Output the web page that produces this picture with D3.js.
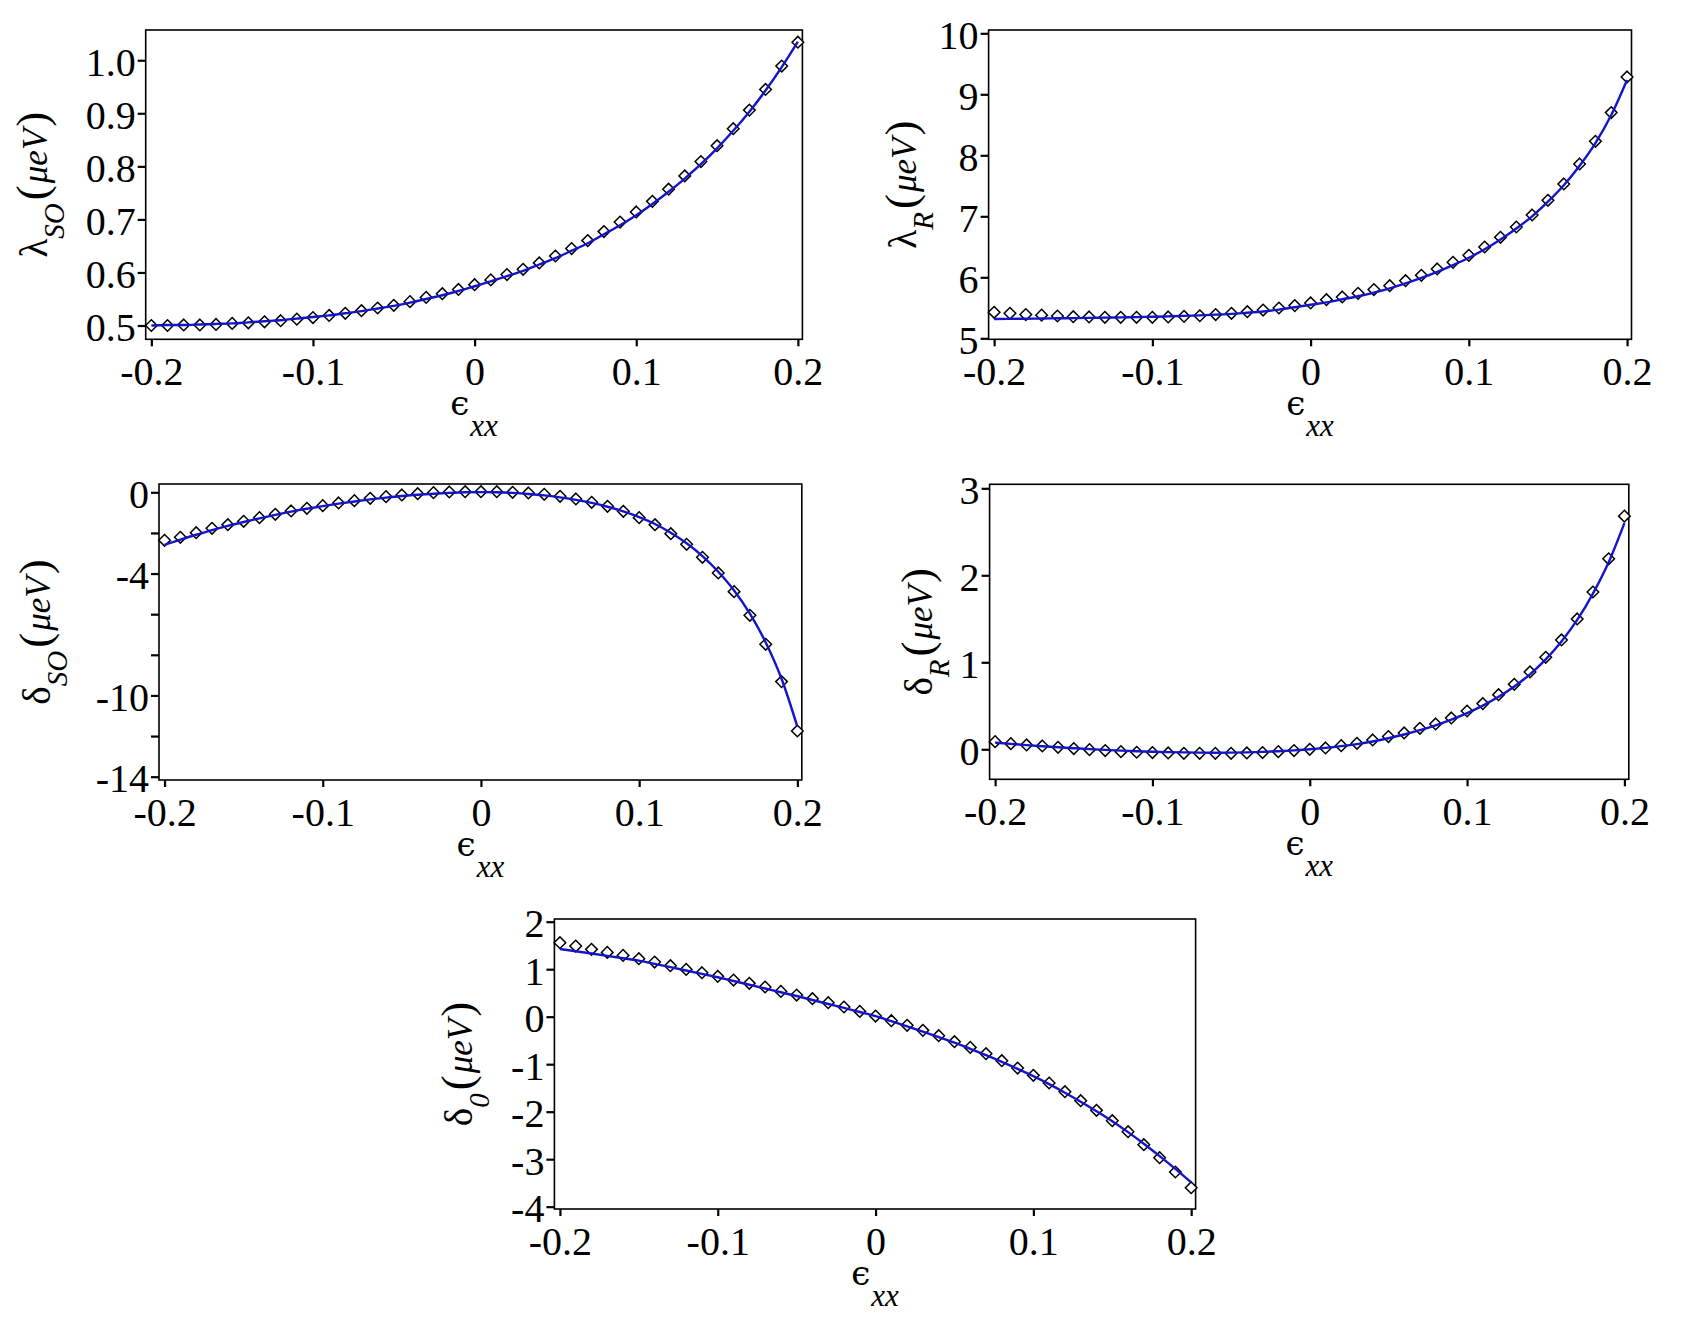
<!DOCTYPE html>
<html>
<head>
<meta charset="utf-8">
<script src="https://cdn.jsdelivr.net/npm/d3@7"></script>
<style>
  body { margin: 0; background: #fff; }
  svg { display: block; }
</style>
</head>
<body>
<svg id="fig" width="1687" height="1324"></svg>
<script>
// strain values (x axis, shared by all panels)
var strain = [-0.2,-0.19,-0.18,-0.17,-0.16,-0.15,-0.14,-0.13,-0.12,-0.11,-0.1,-0.09,-0.08,-0.07,-0.06,-0.05,-0.04,-0.03,-0.02,-0.01,
  0,0.01,0.02,0.03,0.04,0.05,0.06,0.07,0.08,0.09,0.1,0.11,0.12,0.13,0.14,0.15,0.16,0.17,0.18,0.19,0.2];
var xTicks = [-0.2,-0.1,0,0.1,0.2];
var xTickLabels = ["-0.2","-0.1","0","0.1","0.2"];

// lambda_SO
var lambdaSOPts = [0.500,0.500,0.501,0.501,0.502,0.504,0.505,0.507,0.509,0.512,0.515,0.519,0.523,0.528,0.533,0.538,0.545,0.553,0.560,0.568,
  0.577,0.586,0.596,0.606,0.618,0.631,0.645,0.660,0.677,0.695,0.714,0.734,0.757,0.782,0.809,0.839,0.871,0.906,0.945,0.989,1.034];
var lambdaSOFit = [0.500,0.501,0.501,0.502,0.503,0.504,0.506,0.508,0.510,0.513,0.516,0.519,0.523,0.527,0.532,0.537,0.543,0.550,0.557,0.565,
  0.574,0.583,0.593,0.603,0.615,0.627,0.641,0.655,0.672,0.689,0.708,0.729,0.752,0.777,0.804,0.834,0.867,0.903,0.943,0.987,1.035];
var lambdaSOTicks = [0.5,0.6,0.7,0.8,0.9,1.0];
var lambdaSOTickLabels = ["0.5","0.6","0.7","0.8","0.9","1.0"];

// lambda_R
var lambdaRPts = [5.426,5.41,5.39,5.38,5.366,5.355,5.35,5.344,5.344,5.344,5.344,5.35,5.36,5.37,5.39,5.41,5.437,5.464,5.497,5.536,
  5.58,5.634,5.678,5.738,5.80,5.863,5.945,6.033,6.137,6.246,6.361,6.497,6.656,6.825,7.022,7.262,7.53,7.858,8.23,8.70,9.284];
var lambdaRFit = [5.317,5.319,5.322,5.325,5.328,5.331,5.335,5.339,5.343,5.348,5.354,5.36,5.368,5.377,5.388,5.40,5.42,5.44,5.47,5.51,
  5.55,5.59,5.64,5.69,5.75,5.82,5.90,5.99,6.09,6.20,6.32,6.46,6.62,6.80,7.00,7.24,7.51,7.83,8.20,8.66,9.235];
var lambdaRTicks = [5,6,7,8,9,10];
var lambdaRTickLabels = ["5","6","7","8","9","10"];

// delta_SO
var deltaSOPts = [-2.363,-2.216,-1.986,-1.773,-1.592,-1.428,-1.247,-1.083,-0.919,-0.788,-0.656,-0.525,-0.41,-0.295,-0.213,-0.131,-0.066,-0.016,0.016,0.03,
  0.03,0.03,0,-0.033,-0.098,-0.197,-0.328,-0.492,-0.689,-0.936,-1.247,-1.592,-2.035,-2.56,-3.2,-3.97,-4.89,-6.056,-7.484,-9.32,-11.75];
var deltaSOFit = [-2.59,-2.33,-2.09,-1.86,-1.65,-1.46,-1.28,-1.11,-0.95,-0.81,-0.68,-0.56,-0.45,-0.35,-0.26,-0.18,-0.12,-0.07,-0.03,0.0,
  0.01,0.0,-0.03,-0.08,-0.15,-0.25,-0.37,-0.52,-0.71,-0.94,-1.22,-1.56,-1.99,-2.51,-3.14,-3.91,-4.83,-5.97,-7.39,-9.18,-11.54];
var deltaSOTicks = [0,-2,-4,-6,-8,-10,-12,-14];
var deltaSOTickLabels = ["0","","-4","","","-10","","-14"];

// delta_R
var deltaRPts = [0.088,0.065,0.05,0.038,0.023,0.008,-0.004,-0.015,-0.027,-0.034,-0.038,-0.042,-0.046,-0.046,-0.046,-0.046,-0.042,-0.038,-0.027,-0.015,
  0,0.015,0.042,0.069,0.107,0.146,0.188,0.241,0.291,0.36,0.44,0.525,0.628,0.747,0.889,1.057,1.257,1.498,1.808,2.19,2.68];
var deltaRFit = [0.077,0.062,0.048,0.035,0.023,0.012,0.002,-0.007,-0.015,-0.022,-0.028,-0.033,-0.036,-0.038,-0.039,-0.038,-0.035,-0.030,-0.022,-0.012,
  0.0,0.016,0.036,0.060,0.090,0.127,0.170,0.220,0.276,0.341,0.416,0.502,0.603,0.722,0.862,1.034,1.240,1.487,1.790,2.150,2.600];
var deltaRTicks = [0,1,2,3];
var deltaRTickLabels = ["0","1","2","3"];

// delta_0
var delta0Pts = [1.558,1.488,1.418,1.354,1.291,1.221,1.151,1.074,0.996,0.926,0.849,0.772,0.702,0.625,0.533,0.456,0.379,0.295,0.204,0.112,
  0.014,-0.084,-0.182,-0.288,-0.4,-0.526,-0.646,-0.779,-0.926,-1.081,-1.235,-1.396,-1.579,-1.768,-1.972,-2.189,-2.421,-2.695,-2.968,-3.27,-3.6];
var delta0Fit = [1.425,1.378,1.330,1.281,1.231,1.180,1.112,1.043,0.973,0.902,0.830,0.752,0.673,0.594,0.514,0.435,0.352,0.268,0.184,0.099,
  0.014,-0.095,-0.205,-0.316,-0.430,-0.547,-0.676,-0.810,-0.950,-1.097,-1.252,-1.420,-1.600,-1.790,-1.990,-2.200,-2.430,-2.675,-2.935,-3.205,-3.490];
var delta0Ticks = [-4,-3,-2,-1,0,1,2];
var delta0TickLabels = ["-4","-3","-2","-1","0","1","2"];

// panel layout (frame in px, y range at frame bottom/top)
var panels = [
  {sym:"λ", sub:"SO", pts:lambdaSOPts, fit:lambdaSOFit, ticks:lambdaSOTicks, labels:lambdaSOTickLabels,
   l:145.7, r:802.4, t:30, b:339.3, yMin:0.474, yMax:1.057, labX:47},
  {sym:"λ", sub:"R", pts:lambdaRPts, fit:lambdaRFit, ticks:lambdaRTicks, labels:lambdaRTickLabels,
   l:988.6, r:1631.5, t:30, b:339.3, yMin:4.984, yMax:10.054, labX:916},
  {sym:"δ", sub:"SO", pts:deltaSOPts, fit:deltaSOFit, ticks:deltaSOTicks, labels:deltaSOTickLabels,
   l:159, r:801.8, t:484, b:780, yMin:-14.163, yMax:0.409, labX:50},
  {sym:"δ", sub:"R", pts:deltaRPts, fit:deltaRFit, ticks:deltaRTicks, labels:deltaRTickLabels,
   l:989.6, r:1628.8, t:484.3, b:779.3, yMin:-0.345, yMax:3.046, labX:932},
  {sym:"δ", sub:"0", pts:delta0Pts, fit:delta0Fit, ticks:delta0Ticks, labels:delta0TickLabels,
   l:554.4, r:1195.6, t:919, b:1209, yMin:-4.049, yMax:2.057, labX:472}
];

var FONT = "'Liberation Serif', 'DejaVu Serif', serif";
var svg = d3.select("#fig");
svg.append("rect").attr("width",1687).attr("height",1324).attr("fill","#fff");

panels.forEach(function(p){
  var x = d3.scaleLinear().domain([-0.2035,0.2028]).range([p.l,p.r]);
  var y = d3.scaleLinear().domain([p.yMin,p.yMax]).range([p.b,p.t]);
  var g = svg.append("g").attr("class","panel");

  // axes
  var ax = g.append("g").attr("transform","translate(0,"+p.b+")")
    .call(d3.axisBottom(x).tickValues(xTicks).tickSize(7).tickFormat(function(d,i){return xTickLabels[i];}));
  var ay = g.append("g").attr("transform","translate("+p.l+",0)")
    .call(d3.axisLeft(y).tickValues(p.ticks).tickSize(8).tickFormat(function(d,i){return p.labels[i];}));
  [ax,ay].forEach(function(a){
    a.attr("font-family",FONT).attr("font-size",40);
    a.select(".domain").remove();
    a.selectAll(".tick line").attr("stroke","#000").attr("stroke-width",2.2);
    a.selectAll(".tick text").attr("fill","#000");
  });
  ax.selectAll(".tick text").attr("y",46).attr("dy",null);
  ay.selectAll(".tick text").attr("x",-10).attr("y",15).attr("dy",null);

  // frame
  g.append("rect").attr("x",p.l).attr("y",p.t).attr("width",p.r-p.l).attr("height",p.b-p.t)
    .attr("fill","none").attr("stroke","#000").attr("stroke-width",1.6);

  // data points (diamonds)
  var s = 5.8;
  g.append("g").selectAll("path")
    .data(strain)
    .enter()
    .append("path")
    .attr("d",function(d,i){
      var cx = x(d), cy = y(p.pts[i]);
      return "M"+cx+","+(cy-s)+"L"+(cx+s)+","+cy+"L"+cx+","+(cy+s)+"L"+(cx-s)+","+cy+"Z";
    })
    .attr("fill","#fff").attr("stroke","#000").attr("stroke-width",1.5);

  // fitted curve
  var line = d3.line()
    .x(function(d){return x(d);})
    .y(function(d,i){return y(p.fit[i]);})
    .curve(d3.curveMonotoneX);
  g.append("path").datum(strain).attr("d",line)
    .attr("fill","none").attr("stroke","#1414c8").attr("stroke-width",2.4);

  // x label
  var cx = (p.l+p.r)/2;
  var xl = g.append("text").attr("x",cx).attr("y",p.b+76).attr("text-anchor","middle").attr("font-family",FONT);
  xl.append("tspan").attr("font-family","'DejaVu Serif', serif").attr("font-size",34).text("ϵ");
  xl.append("tspan").attr("font-style","italic").attr("font-size",31).attr("dy",21).attr("dx",1).text("xx");

  // y label
  var cy = (p.t+p.b)/2;
  var yl = g.append("text").attr("transform","translate("+p.labX+","+cy+") rotate(-90)")
    .attr("text-anchor","middle").attr("font-family",FONT);
  yl.append("tspan").attr("font-size",39).text(p.sym);
  yl.append("tspan").attr("font-size",29).attr("font-style","italic").attr("dy",17).text(p.sub);
  yl.append("tspan").attr("font-size",45).attr("dy",-17).attr("dx",3).text("(");
  yl.append("tspan").attr("font-size",35).attr("font-style","italic").attr("dx",2).text("μeV");
  yl.append("tspan").attr("font-size",45).attr("dx",2).text(")");
});
</script>
</body>
</html>
